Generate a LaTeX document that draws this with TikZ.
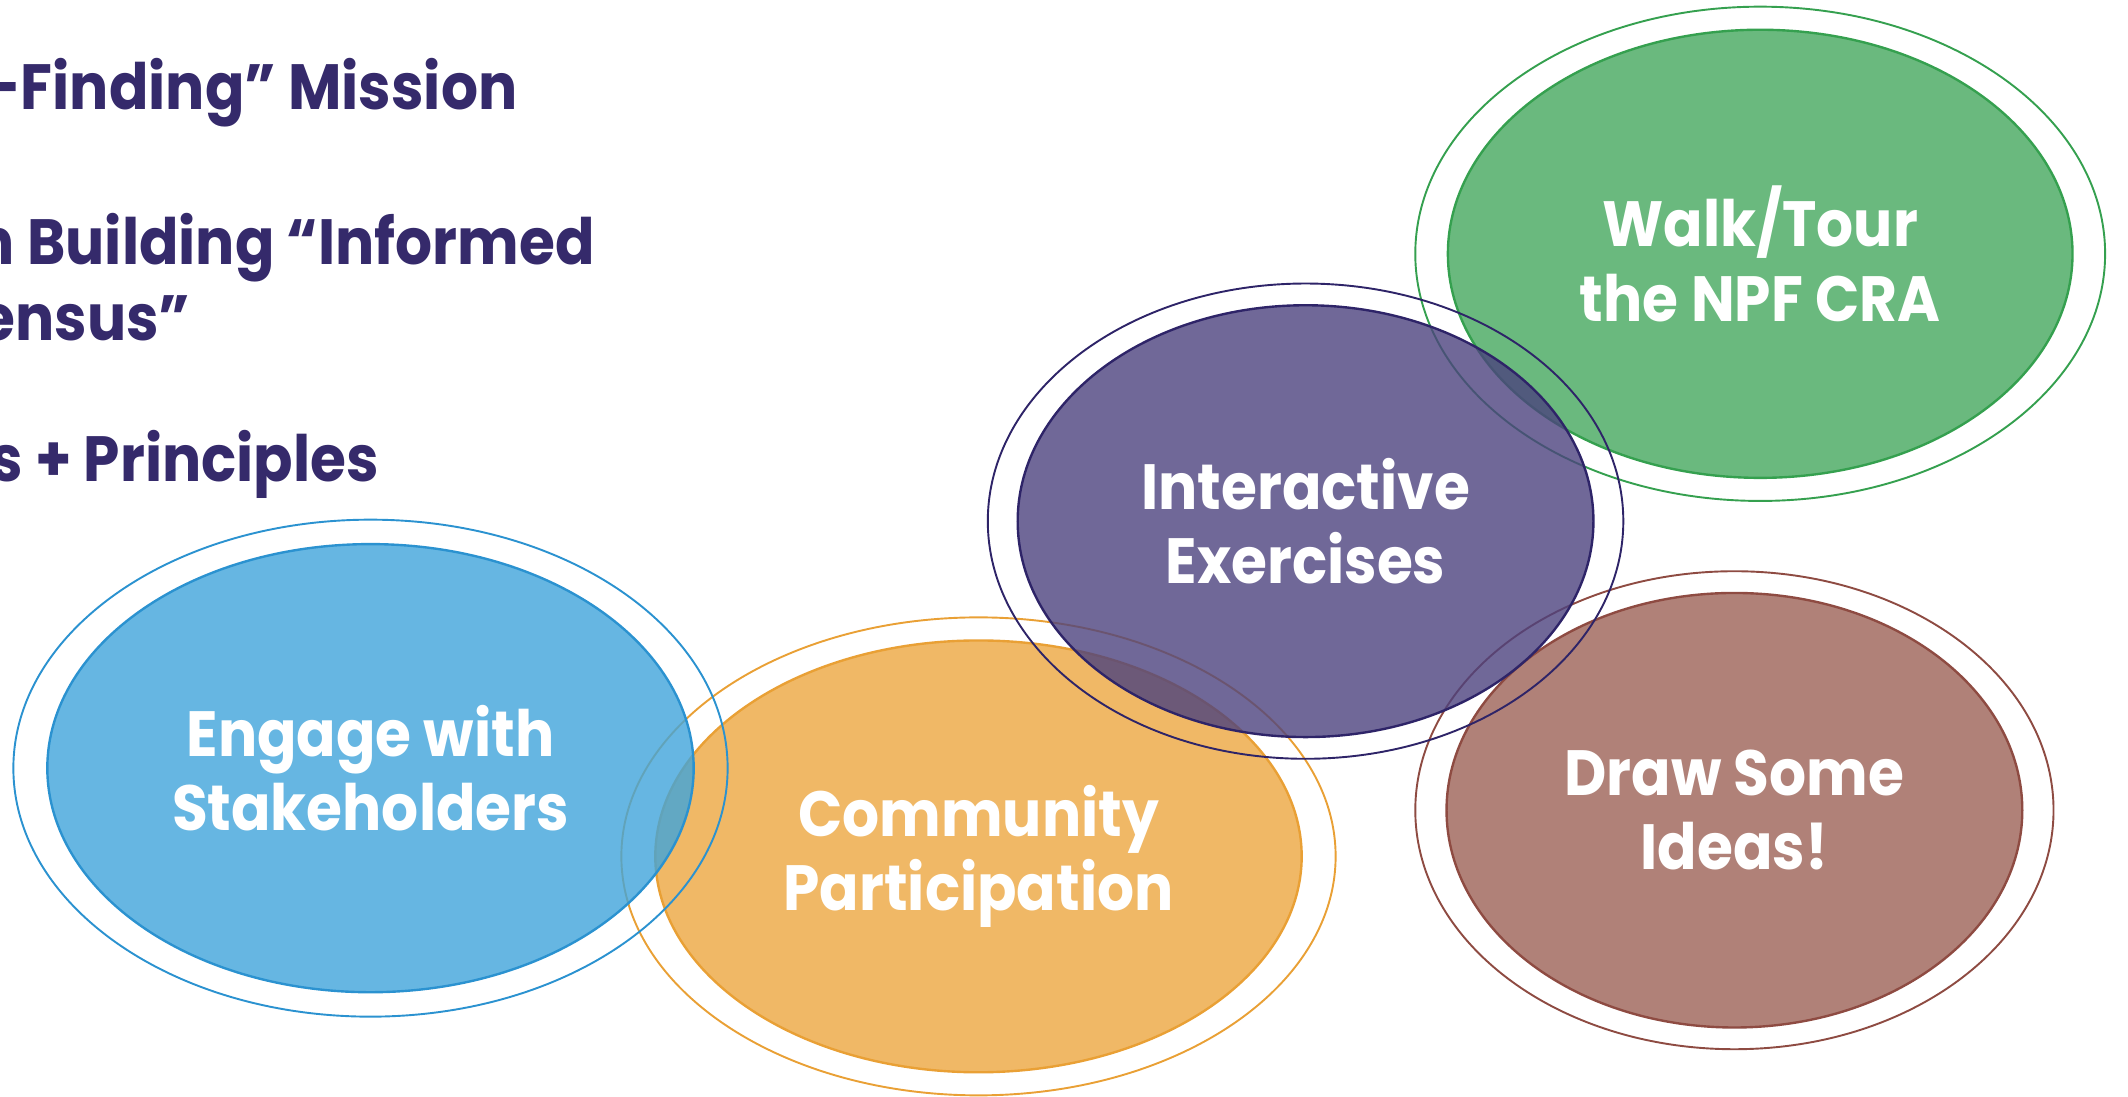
\documentclass[tikz,border=0pt]{standalone}
\usepackage{fontspec}
\setmainfont{Poppins}[FakeStretch=0.91]
\usetikzlibrary{shapes.geometric}

\definecolor{engblue}{HTML}{40A4DB}
\definecolor{engline}{HTML}{2B92D0}
\definecolor{comorange}{HTML}{ECA640}
\definecolor{comline}{HTML}{E9A035}
\definecolor{intpurple}{HTML}{4C427E}
\definecolor{intline}{HTML}{2E2468}
\definecolor{walkgreen}{HTML}{45A85E}
\definecolor{walkline}{HTML}{35A04F}
\definecolor{drawbrown}{HTML}{9C6256}
\definecolor{drawline}{HTML}{8E4B42}
\definecolor{headpurple}{HTML}{352A6B}

\begin{document}
\begin{tikzpicture}[
        x=0.01cm, y=-0.01cm,
        every node/.style={font=\bfseries\fontsize{13.4pt}{15.6pt}\selectfont},
        blob/.style n args={4}{ellipse, inner sep=0pt, fill=#1, draw=#2,
            line width=0.5pt, fill opacity=0.8, text opacity=1,
            minimum width=#3, minimum height=#4, text=white, align=center},
        ring/.style n args={3}{ellipse, inner sep=0pt, draw=#1,
            line width=0.4pt, minimum width=#2, minimum height=#3},
        head/.style={anchor=base east, text=headpurple, inner sep=0pt},
    ]
    \useasboundingbox (0,0) rectangle (1568,808);
    \clip (0,0) rectangle (1568,808);

    % heading lines
    \node[head] (mission) at (382,81) {-Finding” Mission};
    \node[head] (building) at (439,195) {n Building “Informed};
    \node[head] (consensus) at (141,251) {ensus”};
    \node[head] (principles) at (280,355) {s + Principles};

    % walk / tour
    \node[blob={walkgreen}{walkline}{4.60cm}{3.30cm}] (walk) at (1297,187)
        {Walk/Tour\\the NPF CRA};
    \node[ring={walkline}{5.08cm}{3.64cm}] (walk ring) at (walk.center) {};

    % draw ideas
    \node[blob={drawbrown}{drawline}{4.24cm}{3.20cm}] (ideas) at (1278,597)
        {Draw Some\\Ideas!};
    \node[ring={drawline}{4.70cm}{3.52cm}] (ideas ring) at (ideas.center) {};

    % community
    \node[blob={comorange}{comline}{4.76cm}{3.18cm}] (community) at (721,631)
        {Community\\Participation};
    \node[ring={comline}{5.26cm}{3.52cm}] (community ring) at (community.center) {};

    % stakeholders
    \node[blob={engblue}{engline}{4.76cm}{3.30cm}] (engage) at (273,566)
        {Engage with\\Stakeholders};
    \node[ring={engline}{5.26cm}{3.66cm}] (engage ring) at (engage.center) {};

    % interactive
    \node[blob={intpurple}{intline}{4.24cm}{3.18cm}] (exercises) at (962,384)
        {Interactive\\Exercises};
    \node[ring={intline}{4.68cm}{3.50cm}] (exercises ring) at (exercises.center) {};
\end{tikzpicture}
\end{document}
